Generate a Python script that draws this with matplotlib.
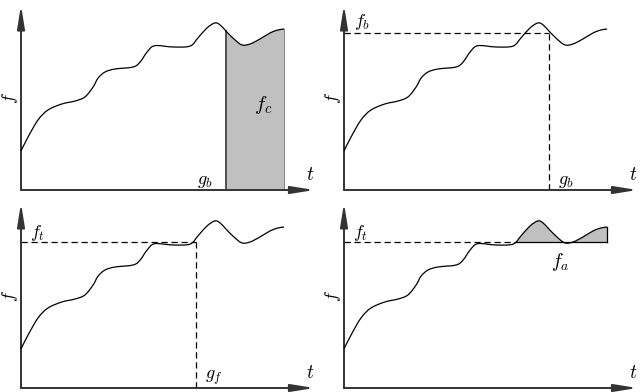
import matplotlib
matplotlib.use("Agg")
import matplotlib.pyplot as plt
from matplotlib.path import Path
from matplotlib.patches import PathPatch, Rectangle
import numpy as np

plt.rcParams['mathtext.fontset'] = 'cm'

# curve (t, f) in 0..100 units
t_vals = [0.0, 2.4, 5.8, 9.2, 14.0, 18.5, 21.9, 24.7, 26.4, 28.8, 32.2, 38.4,
          40.8, 43.2, 45.8, 52.1, 57.9, 60.6, 63.7, 66.4, 68.2, 70.5,
          73.3, 75.7, 78.4, 81.8, 85.3, 88.0, 90.1]
f_vals = [21.1, 28.6, 37.8, 43.2, 46.5, 48.1, 50.3, 55.7, 60.5, 63.8, 65.4, 66.5,
          69.2, 74.6, 78.0, 77.3, 77.8, 82.2, 87.6, 90.3, 89.2, 85.4,
          81.1, 78.4, 78.9, 81.6, 84.9, 86.5, 87.0]
g_b = 70.2
f_b = 84.9
f_t = 78.9
g_f = 59.9

t = np.array(t_vals)
f = np.array(f_vals)


def smooth_path(tx, fy, close_base=None):
    """Cubic Bezier path (Catmull-Rom control points) through the read points."""
    pts = np.column_stack([tx, fy])
    n = len(pts)
    verts = [pts[0]]
    codes = [Path.MOVETO]
    for i in range(n - 1):
        p0 = pts[i - 1] if i > 0 else pts[i]
        p1 = pts[i]
        p2 = pts[i + 1]
        p3 = pts[i + 2] if i + 2 < n else pts[i + 1]
        c1 = p1 + (p2 - p0) / 6.0
        c2 = p2 - (p3 - p1) / 6.0
        verts += [c1, c2, p2]
        codes += [Path.CURVE4] * 3
    if close_base is not None:
        verts += [(tx[-1], close_base), (tx[0], close_base), pts[0]]
        codes += [Path.LINETO, Path.LINETO, Path.CLOSEPOLY]
    return Path(np.array(verts), codes)


W, H = 640, 392
fig = plt.figure(figsize=(6.4, 3.92), dpi=100)


def make_ax(left_px, axis_y_px):
    ax = fig.add_axes([left_px / W, (H - axis_y_px) / H, 292 / W, 185 / H])
    ax.set_xlim(0, 100)
    ax.set_ylim(0, 100)
    ax.axis('off')
    ap = dict(arrowstyle='-|>,head_width=0.16,head_length=1.0',
              color='#333333', lw=1.4, mutation_scale=14, shrinkA=0, shrinkB=0)
    ax.annotate('', xy=(0, 100), xytext=(0, 0), arrowprops=ap,
                annotation_clip=False)
    ax.annotate('', xy=(100.5, 0), xytext=(0, 0), arrowprops=ap,
                annotation_clip=False)
    ax.text(99, 8.5, '$t$', fontsize=14, ha='center', va='center')
    ax.text(-3.6, 50, '$f$', fontsize=13, ha='center', va='center', rotation=90)
    ax.add_patch(PathPatch(smooth_path(t, f), fill=False, ec='black', lw=0.9,
                           zorder=3, clip_on=False))
    return ax


ax1 = make_ax(21, 190)
ax2 = make_ax(344, 190)
ax3 = make_ax(21, 388)
ax4 = make_ax(344, 388)

# panel 1: shaded area after g_b
area1 = PathPatch(smooth_path(t, f, close_base=0), fc='#c0c0c0', lw=0, zorder=1)
ax1.add_patch(area1)
area1.set_clip_path(Rectangle((g_b, 0), 100 - g_b, 100, transform=ax1.transData))
ax1.plot([g_b, g_b], [0, np.interp(g_b, t, f)], color='#444444', lw=1.3, zorder=2)
ax1.plot([t[-1], t[-1]], [0, f[-1]], color='#888888', lw=0.8, zorder=2)
ax1.text(63, 4.8, '$g_b$', fontsize=13, ha='center', va='center')
ax1.text(83, 46, '$f_c$', fontsize=15, ha='center', va='center')

# panel 2: f_b, g_b
ax2.plot([0, g_b], [f_b, f_b], color='black', lw=0.9, ls=(0, (5, 3)))
ax2.plot([g_b, g_b], [0, f_b], color='black', lw=0.9, ls=(0, (5, 3)))
ax2.text(6.2, 90.8, '$f_b$', fontsize=13, ha='center', va='center')
ax2.text(76, 4.8, '$g_b$', fontsize=13, ha='center', va='center')

# panel 3: f_t, g_f
ax3.plot([0, g_f], [f_t, f_t], color='black', lw=0.9, ls=(0, (5, 3)))
ax3.plot([g_f, g_f], [0, f_t], color='black', lw=0.9, ls=(0, (5, 3)))
ax3.text(5.5, 84, '$f_t$', fontsize=13, ha='center', va='center')
ax3.text(66, 5.4, '$g_f$', fontsize=13, ha='center', va='center')

# panel 4: area above f_t
idx = np.argmax((f[:-1] < f_t) & (f[1:] >= f_t) & (t[:-1] > 50))
t_cross = t[idx] + (f_t - f[idx]) * (t[idx + 1] - t[idx]) / (f[idx + 1] - f[idx])
area4 = PathPatch(smooth_path(t, f, close_base=0), fc='#c0c0c0', lw=0, zorder=1)
ax4.add_patch(area4)
area4.set_clip_path(Rectangle((t_cross - 1, f_t), 100, 30, transform=ax4.transData))
ax4.plot([0, t_cross], [f_t, f_t], color='black', lw=0.9, ls=(0, (5, 3)))
ax4.plot([t_cross, t[-1]], [f_t, f_t], color='black', lw=0.9, zorder=2)
ax4.plot([t[-1], t[-1]], [f_t, f[-1]], color='black', lw=0.9, zorder=2)
ax4.text(5.5, 84, '$f_t$', fontsize=13, ha='center', va='center')
ax4.text(74, 68, '$f_a$', fontsize=14, ha='center', va='center')

fig.savefig('out.png', dpi=100)
